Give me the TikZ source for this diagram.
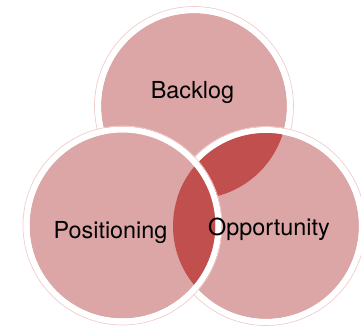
\documentclass[tikz,border=0pt]{standalone}
\usepackage{fontspec}
\setmainfont{TeX Gyre Heros}
\usepackage{xcolor}
\usetikzlibrary{fadings}
\definecolor{venn}{HTML}{DDA6A6}
\definecolor{venndark}{HTML}{C14F4E}
\definecolor{vennrim}{HTML}{F1CCCC}
\tikzfading[name=ringfade, left color=transparent!100, right color=transparent!0]

\begin{document}
\begin{tikzpicture}[x=1pt, y=-1pt,
	ring/.style={white, line width=6pt},
	rim/.style={vennrim, line width=0.7pt},
	vennlabel/.style={font=\fontsize{23.4}{28}\selectfont, anchor=base}]
	\useasboundingbox (0,0) rectangle (361,327);
	
	% Backlog
	\fill [venn] (194,106) circle [radius = 93];
	\draw [ring] (194,106) circle [radius = 96];
	\draw [rim] (194,106) circle [radius = 99.5];
	
	% Opportunity
	\fill [venn] (266,226) circle [radius = 93];
	\draw [ring] (266,226) circle [radius = 96];
	\draw [rim] (266,226) circle [radius = 99.5];
	\begin{scope}
		\clip (194,106) circle [radius = 93];
		\draw [venn, line width=6.5pt, path fading=ringfade] (266,226) ++(122:96) arc [start angle=122, end angle=76, radius=96];
	\end{scope}
	
	% Positioning
	\fill [venn] (122.5,225.5) circle [radius = 93];
	
	\begin{scope}
		\clip (266,226) circle [radius = 93];
		\fill [venndark] (122.5,225.5) circle [radius = 93];
		\fill [venndark] (194,106) circle [radius = 93];
	\end{scope}
	
	\draw [ring] (122.5,225.5) circle [radius = 96];
	\draw [rim] (122.5,225.5) circle [radius = 99.5];
	
	\node [vennlabel] (backlog) at (192.5,98) {Backlog};
	\node [vennlabel] (positioning) at (110.5,238) {Positioning};
	\node [vennlabel] (opportunity) at (269,235) {Opportunity};
\end{tikzpicture}
\end{document}
